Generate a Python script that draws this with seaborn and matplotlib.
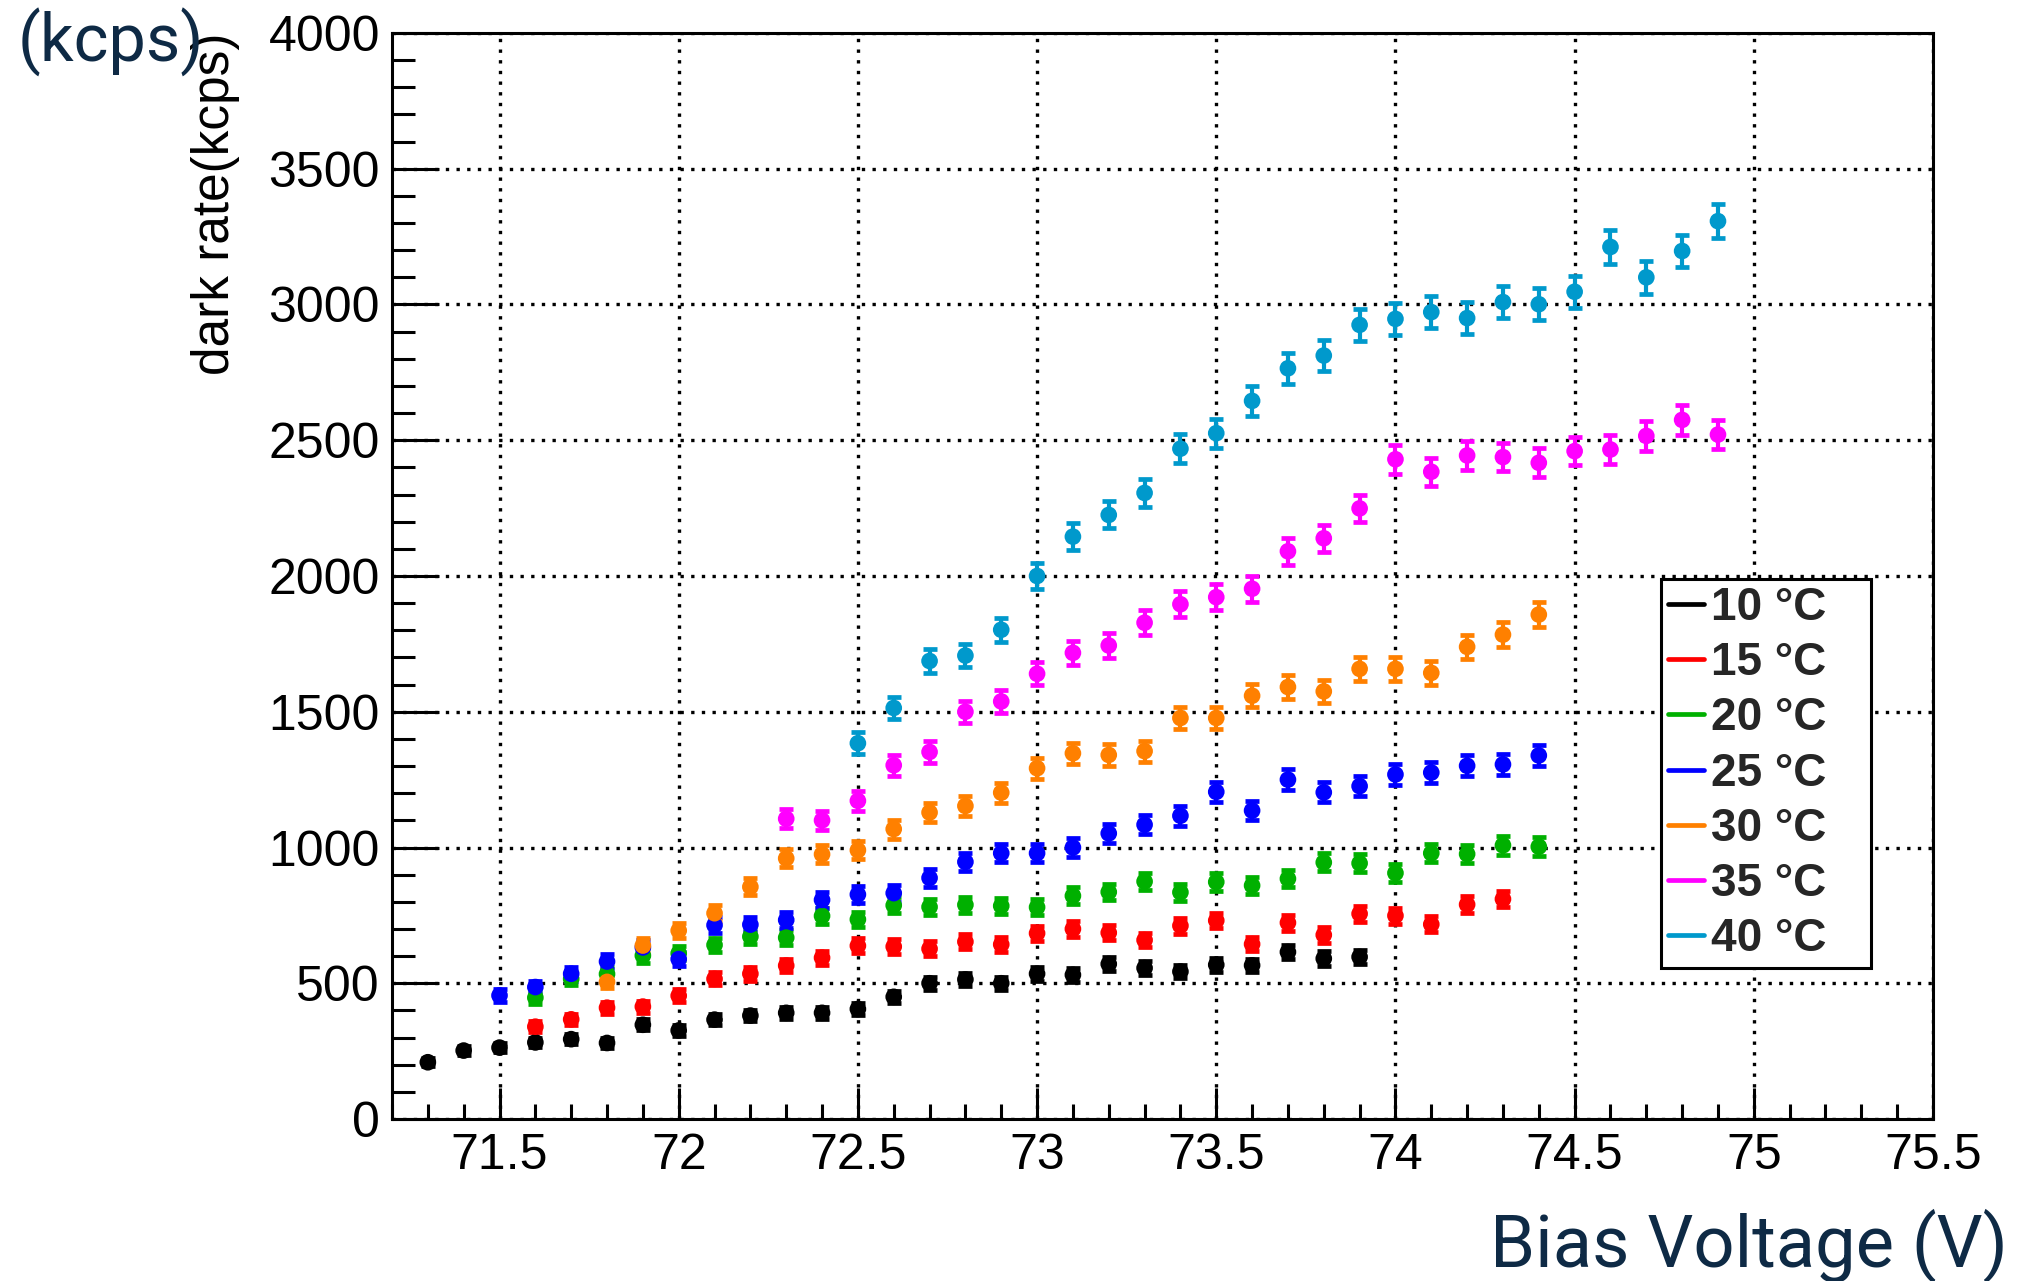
import matplotlib
matplotlib.use("Agg")
import matplotlib.pyplot as plt
from matplotlib.lines import Line2D
from matplotlib.ticker import MultipleLocator, FuncFormatter
import seaborn as sns
import pandas as pd

# ---------------- data ----------------
labels = ["10 °C", "15 °C", "20 °C", "25 °C", "30 °C", "35 °C", "40 °C"]
colors = ["#000000", "#ff0000", "#00b000", "#0000ff", "#ff8000", "#ff00ff", "#0099cc"]

v10 = [71.3, 71.4, 71.5, 71.6, 71.7, 71.8, 71.9, 72.0, 72.1, 72.2, 72.3, 72.4, 72.5, 72.6,
       72.7, 72.8, 72.9, 73.0, 73.1, 73.2, 73.3, 73.4, 73.5, 73.6, 73.7, 73.8, 73.9]
r10 = [209, 252, 263, 282, 294, 280, 347, 326, 366, 381, 391, 391, 405, 450,
       500, 514, 500, 535, 531, 571, 556, 543, 568, 566, 615, 591, 597]
e10 = [15, 17, 17, 18, 18, 18, 20, 19, 20, 21, 21, 21, 22, 23,
       24, 24, 24, 25, 25, 26, 25, 25, 26, 25, 27, 26, 26]

v15 = [71.6, 71.7, 71.8, 71.9, 72.0, 72.1, 72.2, 72.3, 72.4, 72.5, 72.6, 72.7, 72.8, 72.9,
       73.0, 73.1, 73.2, 73.3, 73.4, 73.5, 73.6, 73.7, 73.8, 73.9, 74.0, 74.1, 74.2, 74.3]
r15 = [340, 367, 410, 414, 454, 516, 535, 565, 594, 638, 635, 627, 653, 643,
       684, 700, 686, 659, 712, 731, 644, 723, 678, 756, 749, 717, 790, 810]
e15 = [20, 20, 22, 22, 23, 24, 25, 25, 26, 27, 27, 27, 27, 27,
       28, 28, 28, 27, 29, 29, 27, 29, 28, 29, 29, 29, 30, 30]

v20 = [71.6, 71.7, 71.8, 71.9, 72.0, 72.1, 72.2, 72.3, 72.4, 72.5, 72.6, 72.7, 72.8, 72.9,
       73.0, 73.1, 73.2, 73.3, 73.4, 73.5, 73.6, 73.7, 73.8, 73.9, 74.0, 74.1, 74.2, 74.3, 74.4]
r20 = [447, 516, 534, 602, 610, 641, 672, 668, 748, 735, 787, 781, 789, 785,
       780, 822, 836, 875, 835, 873, 860, 885, 945, 942, 906, 979, 976, 1008, 1003]
e20 = [23, 24, 25, 26, 26, 27, 28, 28, 29, 29, 30, 30, 30, 30,
       30, 31, 31, 32, 31, 32, 31, 32, 33, 33, 32, 33, 33, 34, 34]

v25 = [71.5, 71.6, 71.7, 71.8, 71.9, 72.0, 72.1, 72.2, 72.3, 72.4, 72.5, 72.6, 72.7, 72.8, 72.9,
       73.0, 73.1, 73.2, 73.3, 73.4, 73.5, 73.6, 73.7, 73.8, 73.9, 74.0, 74.1, 74.2, 74.3, 74.4]
r25 = [455, 486, 535, 580, 632, 589, 714, 716, 733, 807, 827, 832, 888, 947, 979,
       979, 1000, 1052, 1084, 1117, 1205, 1136, 1250, 1203, 1226, 1269, 1276, 1301, 1306, 1339]
e25 = [23, 24, 25, 26, 27, 26, 29, 29, 29, 30, 31, 31, 32, 33, 33,
       33, 34, 35, 35, 36, 37, 36, 38, 37, 37, 38, 38, 39, 39, 39]

v30 = [71.8, 71.9, 72.0, 72.1, 72.2, 72.3, 72.4, 72.5, 72.6, 72.7, 72.8, 72.9, 73.0, 73.1,
       73.2, 73.3, 73.4, 73.5, 73.6, 73.7, 73.8, 73.9, 74.0, 74.1, 74.2, 74.3, 74.4]
r30 = [505, 639, 694, 758, 855, 960, 975, 990, 1068, 1129, 1153, 1202, 1292, 1347,
       1341, 1355, 1477, 1477, 1559, 1591, 1575, 1658, 1658, 1643, 1739, 1784, 1858]
e30 = [24, 27, 28, 29, 31, 33, 33, 34, 35, 36, 36, 37, 38, 39,
       39, 39, 41, 41, 42, 43, 42, 44, 44, 43, 45, 45, 46]

v35 = [72.3, 72.4, 72.5, 72.6, 72.7, 72.8, 72.9, 73.0, 73.1, 73.2, 73.3, 73.4, 73.5, 73.6,
       73.7, 73.8, 73.9, 74.0, 74.1, 74.2, 74.3, 74.4, 74.5, 74.6, 74.7, 74.8, 74.9]
r35 = [1106, 1100, 1172, 1303, 1352, 1500, 1538, 1640, 1717, 1744, 1828, 1896, 1922, 1953,
       2091, 2139, 2249, 2430, 2384, 2444, 2438, 2417, 2460, 2466, 2516, 2575, 2521]
e35 = [36, 35, 37, 39, 39, 41, 42, 43, 44, 45, 46, 47, 47, 47,
       49, 49, 51, 53, 52, 53, 53, 53, 53, 53, 54, 54, 54]

v40 = [72.5, 72.6, 72.7, 72.8, 72.9, 73.0, 73.1, 73.2, 73.3, 73.4, 73.5, 73.6, 73.7,
       73.8, 73.9, 74.0, 74.1, 74.2, 74.3, 74.4, 74.5, 74.6, 74.7, 74.8, 74.9]
r40 = [1384, 1514, 1687, 1707, 1802, 2000, 2145, 2225, 2306, 2469, 2526, 2645, 2765,
       2812, 2925, 2947, 2972, 2950, 3009, 3001, 3047, 3212, 3100, 3197, 3307]
e40 = [40, 42, 44, 44, 45, 48, 50, 50, 51, 53, 54, 55, 56,
       57, 58, 58, 58, 58, 59, 59, 59, 61, 60, 60, 62]

volts = [v10, v15, v20, v25, v30, v35, v40]
rates = [r10, r15, r20, r25, r30, r35, r40]
errs = [e10, e15, e20, e25, e30, e35, e40]

x_major_ticks = [71.5, 72, 72.5, 73, 73.5, 74, 74.5, 75, 75.5]
y_major_ticks = [0, 500, 1000, 1500, 2000, 2500, 3000, 3500, 4000]

# ---------------- table ----------------
frames = []
for lab, v, r, e in zip(labels, volts, rates, errs):
    frames.append(pd.DataFrame({"V": v, "rate": r, "err": e, "T": lab}))
df = pd.concat(frames, ignore_index=True)

# ---------------- style ----------------
sns.set_theme(style="white")
plt.rcParams["font.family"] = ["Liberation Sans", "DejaVu Sans"]
plt.rcParams["axes.linewidth"] = 2.2

W, H = 2018, 1281
fig = plt.figure(figsize=(W / 100, H / 100), dpi=100)
fig.patch.set_facecolor("white")
ax = fig.add_axes([392 / W, 1 - 1119 / H, 1541 / W, (1119 - 33) / H])
ax.set_facecolor("white")

palette = dict(zip(labels, colors))

# error bars
for lab, col in zip(labels, colors):
    sub = df[df["T"] == lab]
    ax.errorbar(sub["V"], sub["rate"], yerr=sub["err"], fmt="none", ecolor=col,
                elinewidth=3.0, capsize=4.8, capthick=3.4, zorder=3)

# markers
sns.scatterplot(data=df, x="V", y="rate", hue="T", palette=palette, hue_order=labels,
                s=12 ** 2, edgecolor="none", linewidth=0, legend=False, ax=ax, zorder=4)

ax.set_xlim(71.2, 75.5)
ax.set_ylim(0, 4000)
ax.set_xticks(x_major_ticks)
ax.set_yticks(y_major_ticks)
ax.xaxis.set_minor_locator(MultipleLocator(0.1))
ax.yaxis.set_minor_locator(MultipleLocator(100))
ax.xaxis.set_major_formatter(FuncFormatter(lambda v, p: f"{v:g}"))
ax.yaxis.set_major_formatter(FuncFormatter(lambda v, p: f"{v:g}"))

ax.tick_params(axis="both", which="both", direction="in", colors="black",
               bottom=True, left=True, top=False, right=False, labelsize=36, width=2.2)
ax.tick_params(axis="y", which="major", length=33.8, pad=8.6)
ax.tick_params(axis="y", which="minor", length=16.6)
ax.tick_params(axis="x", which="major", length=22.3, pad=10)
ax.tick_params(axis="x", which="minor", length=10.8)

for s in ax.spines.values():
    s.set_color("black")
    s.set_linewidth(2.2)

ax.set_axisbelow(True)
ax.grid(True, which="major", color="black", linestyle=(0, (1, 2.2)), linewidth=2.4)

ax.set_xlabel("")
ax.set_ylabel("dark rate(kcps)", fontsize=37, loc="top", color="black")
ax.yaxis.set_label_coords(-(392 - 240) / 1541, 1.0)

# legend
handles = [Line2D([0], [0], color=c, lw=3.4) for c in colors]
leg = ax.legend(handles, labels, loc="upper left",
                bbox_to_anchor=(1661 / W, 1 - 967 / H, (1871 - 1661) / W, (967 - 579) / H),
                bbox_transform=fig.transFigure, mode="expand", borderaxespad=0,
                prop={"family": "Liberation Sans", "weight": "bold", "size": 33},
                handlelength=0.78, handletextpad=0.17, borderpad=0.15, labelspacing=0.245,
                fancybox=False, framealpha=1, edgecolor="black")
leg.get_frame().set_linewidth(2.2)

navy = "#0e2a45"
fig.text(18 / W, 1 - 62 / H, "(kcps)", fontsize=48, color=navy, family="Roboto",
         fontweight="normal", ha="left", va="baseline")
fig.text(2008 / W, 1 - 1266 / H, "Bias Voltage (V)", fontsize=52, color=navy,
         family="Roboto", fontweight="normal", ha="right", va="baseline")

fig.savefig("out.png", dpi=100, facecolor="white")
